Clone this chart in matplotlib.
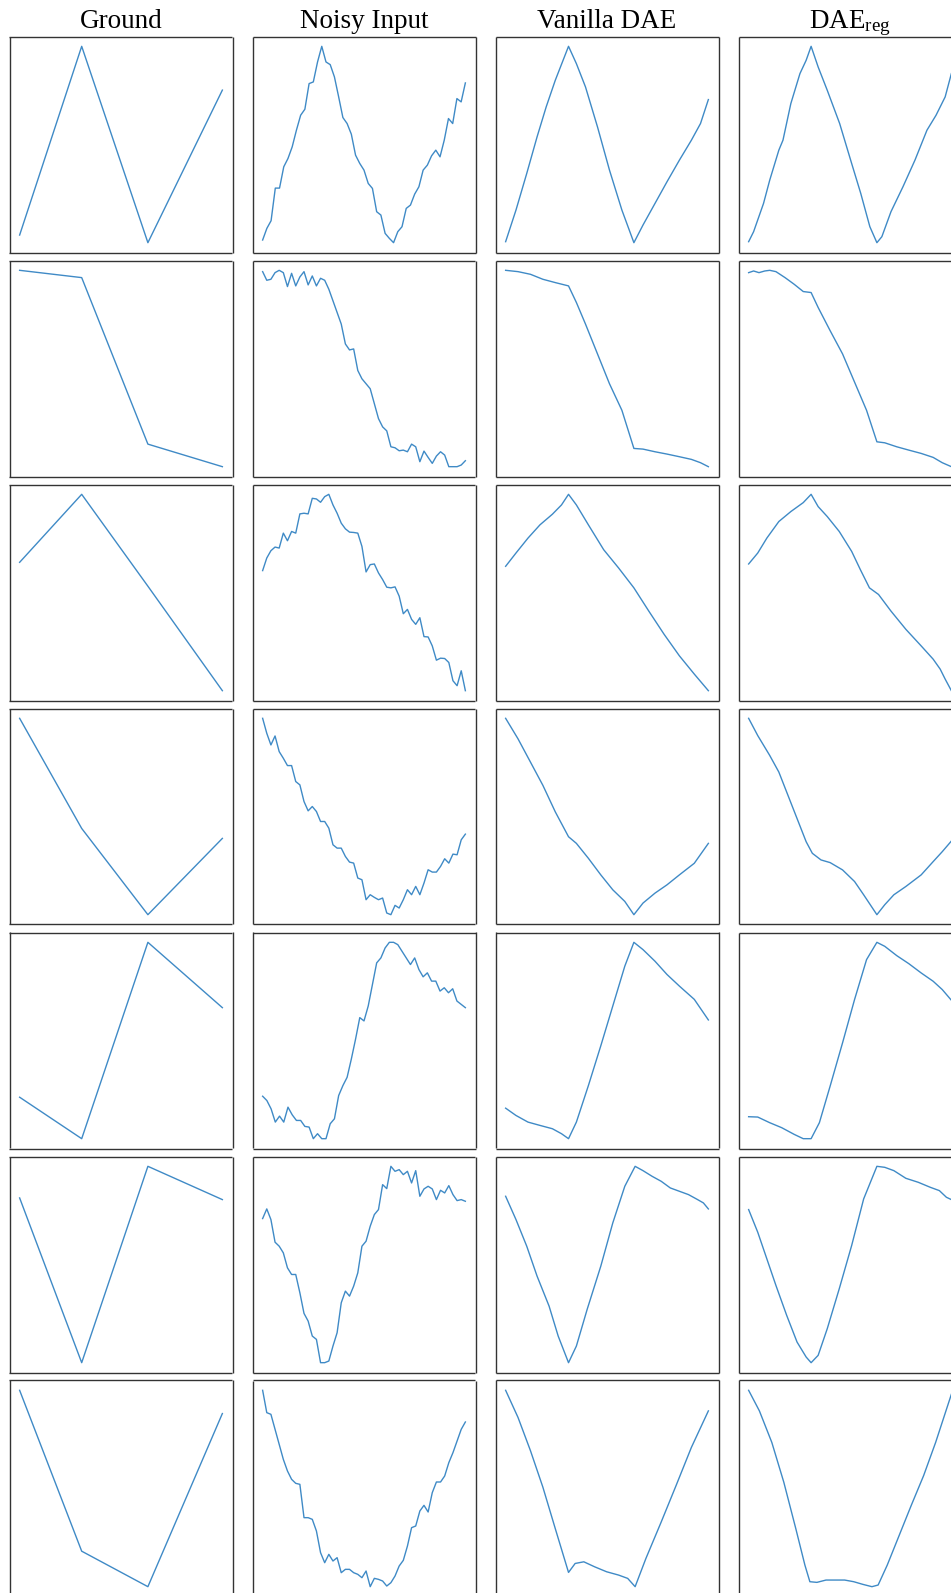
import numpy as np
import matplotlib
matplotlib.use("Agg")
import matplotlib.pyplot as plt

plt.rcParams['font.family'] = ['Liberation Serif', 'DejaVu Serif']
plt.rcParams['mathtext.fontset'] = 'custom'
plt.rcParams['mathtext.rm'] = 'Liberation Serif'
plt.rcParams['mathtext.it'] = 'Liberation Serif:italic'

titles = ["Ground", "Noisy Input", "Vanilla DAE", r"DAE$_{\mathrm{reg}}$"]

# ---------------- Row 1 ----------------
r1_ground_x = [0, 15, 31, 49]
r1_ground_y = [23, 592, 0, 460]
r1_noisy = [10, 45, 68, 166, 166, 230, 255, 290, 340, 385, 403, 480, 485, 545, 592, 545, 537, 500,
            440, 378, 360, 328, 265, 240, 220, 180, 165, 95, 85, 30, 15, 2, 35, 50, 105, 115, 148,
            170, 220, 235, 263, 280, 260, 310, 375, 360, 435, 425, 482]
r1_dae_x = [0, 2.5, 5.1, 7.6, 9.8, 12, 15.2, 17.1, 19.3, 22.2, 25.1, 28.1, 31, 33.2, 36.1, 39, 42, 44.9, 47.1, 49]
r1_dae_y = [5, 100, 210, 320, 410, 490, 592, 540, 470, 350, 220, 100, 2, 55, 120, 185, 250, 310, 360, 432]
r1_reg_x = [0, 1.2, 3.6, 5.1, 7.3, 8.3, 10.2, 12.4, 13.9, 15.1, 16.8, 19, 22, 24.9, 27.1, 29.3, 31, 32.2,
            34.4, 37.3, 40.2, 43.1, 45.3, 47.5, 49]
r1_reg_y = [5, 35, 120, 190, 280, 310, 420, 510, 550, 592, 530, 460, 360, 240, 150, 50, 2, 20,
            95, 170, 250, 340, 385, 440, 510]

# ---------------- Row 2 ----------------
r2_ground_x = [0, 15, 31, 49]
r2_ground_y = [592, 570, 68, 0]
r2_noisy = [588, 562, 565, 585, 592, 585, 543, 583, 545, 572, 588, 548, 575, 545, 568, 562, 535, 500,
            465, 430, 370, 352, 355, 290, 265, 250, 235, 190, 145, 120, 108, 60, 57, 48, 50, 45, 68,
            60, 15, 47, 28, 10, 32, 45, 35, 0, 0, 0, 5, 18]
r2_dae_x = [0, 3, 6, 9, 12, 15.2, 17.1, 19.3, 22.2, 25.1, 28.1, 31, 33.2, 36.1, 39, 42, 44.9, 47.1, 49]
r2_dae_y = [592, 588, 580, 565, 555, 545, 495, 430, 340, 250, 170, 55, 53, 45, 38, 30, 22, 12, 0]
r2_reg_x = [0, 1.2, 2.5, 3.9, 5.1, 6.6, 8.8, 11, 13.2, 15.1, 16.8, 19.7, 22.7, 25.6, 28.5, 31, 32.9,
            35.8, 38.7, 41.7, 44.6, 46.8, 49]
r2_reg_y = [585, 590, 585, 590, 592, 588, 570, 550, 528, 525, 480, 410, 340, 255, 170, 75, 72,
            60, 50, 40, 28, 12, 0]

# ---------------- Row 3 ----------------
r3_ground_x = [0, 15, 31, 49]
r3_ground_y = [387, 592, 315, 0]
r3_noisy = [362, 400, 422, 433, 430, 475, 452, 480, 475, 533, 535, 533, 580, 578, 568, 585, 592, 560,
            535, 505, 488, 478, 477, 475, 435, 358, 380, 382, 355, 335, 312, 310, 313, 285, 232, 245,
            215, 200, 220, 163, 162, 135, 92, 98, 97, 85, 30, 15, 60, 0]
r3_dae_x = [0, 2.5, 5.4, 8.3, 11.3, 13.5, 15.2, 17.1, 20, 23.7, 27.3, 31, 34.6, 38.3, 42, 45.6, 49]
r3_dae_y = [375, 415, 460, 500, 532, 560, 592, 560, 500, 425, 370, 310, 240, 170, 105, 50, 0]
r3_reg_x = [0, 2.2, 4.4, 7.3, 10.2, 13.2, 15.1, 16.8, 19, 21.9, 24.9, 27, 29.2, 31.4, 34.4, 38, 41.7,
            44.6, 46.3, 47.5, 49]
r3_reg_y = [382, 415, 460, 510, 540, 567, 592, 555, 525, 480, 420, 365, 310, 290, 240, 185, 135,
            95, 65, 35, 0]

# ---------------- Row 4 ----------------
r4_ground_x = [0, 15, 31, 49]
r4_ground_y = [592, 260, 0, 230]
r4_noisy = [590, 545, 510, 537, 490, 470, 448, 448, 400, 390, 340, 312, 325, 310, 280, 280, 260, 210,
            200, 200, 175, 158, 155, 110, 105, 45, 60, 52, 45, 50, 5, 0, 28, 20, 45, 75, 60, 85, 60,
            95, 135, 128, 128, 145, 168, 155, 182, 180, 225, 242]
r4_dae_x = [0, 3, 6, 9, 12, 15.2, 17.1, 20, 23, 25.9, 28.8, 31, 33.2, 36.1, 39, 42, 45.6, 49]
r4_dae_y = [592, 530, 460, 390, 310, 235, 215, 170, 120, 75, 40, 0, 35, 65, 90, 120, 155, 215]
r4_reg_x = [0, 2.2, 5.1, 7.3, 9.5, 11.7, 13.9, 15.4, 17.5, 19.7, 22.7, 25.6, 27.8, 31, 32.9, 35.1, 38,
            41.7, 44.6, 46.8, 49]
r4_reg_y = [592, 540, 480, 430, 360, 290, 220, 185, 165, 157, 135, 100, 60, 0, 30, 60, 85,
            120, 160, 190, 222]

# ---------------- Row 5 ----------------
r5_ground_x = [0, 15, 31, 49]
r5_ground_y = [125, 0, 592, 395]
r5_noisy = [128, 115, 90, 50, 68, 50, 95, 72, 55, 55, 37, 35, 0, 15, 0, 0, 45, 60, 130, 160, 185, 240,
            300, 365, 355, 400, 465, 530, 545, 575, 592, 592, 585, 565, 545, 525, 545, 510, 488, 500,
            475, 475, 445, 455, 440, 452, 415, 405, 395]
r5_dae_x = [0, 2.5, 5.4, 8.3, 11.3, 13.5, 15.2, 17.1, 20, 23, 25.9, 28.8, 31, 33.2, 36.1, 39, 42, 45.6, 49]
r5_dae_y = [92, 70, 50, 40, 30, 15, 0, 50, 160, 280, 400, 520, 592, 570, 535, 495, 460, 420, 358]
r5_reg_x = [0, 2.2, 5.1, 8, 11, 13.2, 15.1, 17.1, 19.7, 22.7, 25.6, 28.5, 31, 32.9, 35.8, 38.7, 41.7,
            44.6, 46.8, 49]
r5_reg_y = [68, 67, 50, 35, 15, 2, 2, 50, 160, 290, 420, 540, 592, 580, 552, 528, 500,
            475, 450, 418]

# ---------------- Row 6 ----------------
r6_ground_x = [0, 15, 31, 49]
r6_ground_y = [495, 0, 590, 490]
r6_noisy = [433, 462, 430, 362, 350, 330, 285, 265, 265, 210, 148, 125, 80, 70, 0, 0, 5, 50, 90, 180,
            215, 200, 230, 270, 350, 365, 410, 445, 460, 535, 523, 590, 575, 580, 565, 575, 540, 577,
            500, 522, 530, 522, 490, 518, 510, 532, 505, 487, 490, 485]
r6_dae_x = [0, 2.5, 5.1, 7.6, 10.5, 12.7, 15.2, 17.1, 19.7, 23, 25.9, 28.8, 31.3, 33.2, 35.4, 37.6,
            39.8, 42, 44.2, 46.4, 47.8, 49]
r6_dae_y = [500, 430, 350, 260, 170, 80, 0, 50, 160, 290, 420, 530, 590, 577, 560, 545,
            525, 515, 505, 490, 480, 462]
r6_reg_x = [0, 2.2, 4.4, 6.6, 9.2, 11.7, 13.9, 15.1, 16.8, 19, 21.9, 24.9, 27.8, 31, 32.9, 35.1, 38,
            41, 43.9, 46.1, 47.8, 49]
r6_reg_y = [460, 392, 312, 232, 142, 62, 17, 0, 22, 102, 222, 352, 492, 590, 587, 577, 554,
            542, 527, 517, 497, 490]

# ---------------- Row 7 ----------------
r7_ground_x = [0, 15, 31, 49]
r7_ground_y = [592, 107, 0, 522]
r7_noisy = [592, 525, 520, 475, 430, 385, 350, 325, 313, 310, 210, 210, 205, 170, 105, 75, 100, 80, 90,
            45, 55, 55, 45, 40, 30, 50, 3, 28, 25, 20, 5, 15, 35, 65, 82, 125, 180, 185, 230, 247,
            227, 285, 317, 317, 335, 375, 405, 440, 475, 497]
r7_dae_x = [0, 3, 6, 9, 12, 15.2, 16.8, 18.9, 21.5, 24.4, 27.3, 29.5, 31.3, 33.9, 37.6, 41.2, 44.9, 49]
r7_dae_y = [592, 510, 410, 300, 175, 43, 70, 75, 60, 45, 35, 25, 0, 85, 195, 305, 420, 530]
r7_reg_x = [0, 2.6, 5.6, 8.5, 11.4, 13.6, 14.8, 16.5, 18.7, 21, 23.2, 25.4, 27.6, 29.8, 31.3, 33.5,
            36.4, 39.3, 42.3, 45.2, 49]
r7_reg_y = [592, 530, 435, 315, 175, 65, 15, 13, 20, 20, 20, 15, 7, 0, 5, 65,
            155, 245, 335, 435, 580]

rows = [
    ((r1_ground_x, r1_ground_y), r1_noisy, (r1_dae_x, r1_dae_y), (r1_reg_x, r1_reg_y)),
    ((r2_ground_x, r2_ground_y), r2_noisy, (r2_dae_x, r2_dae_y), (r2_reg_x, r2_reg_y)),
    ((r3_ground_x, r3_ground_y), r3_noisy, (r3_dae_x, r3_dae_y), (r3_reg_x, r3_reg_y)),
    ((r4_ground_x, r4_ground_y), r4_noisy, (r4_dae_x, r4_dae_y), (r4_reg_x, r4_reg_y)),
    ((r5_ground_x, r5_ground_y), r5_noisy, (r5_dae_x, r5_dae_y), (r5_reg_x, r5_reg_y)),
    ((r6_ground_x, r6_ground_y), r6_noisy, (r6_dae_x, r6_dae_y), (r6_reg_x, r6_reg_y)),
    ((r7_ground_x, r7_ground_y), r7_noisy, (r7_dae_x, r7_dae_y), (r7_reg_x, r7_reg_y)),
]

W, H = 951, 1593
fig = plt.figure(figsize=(W / 100, H / 100), dpi=100)

col_left = [9.5, 252.5, 495.5, 738.5]
ax_w, ax_h = 223, 216
row_top0, row_step = 36.5, 224.0
line_color = '#3f8ac6'
spine_color = '#333333'

for r, row in enumerate(rows):
    top = row_top0 + r * row_step
    for c in range(4):
        ax = fig.add_axes([col_left[c] / W, 1 - (top + ax_h) / H, ax_w / W, ax_h / H])
        item = row[c]
        if c == 1:
            y = np.asarray(item, dtype=float)
            ax.plot(np.arange(len(y)), y, color=line_color, lw=1.0)
        else:
            ax.plot(item[0], item[1], color=line_color, lw=1.0)
        ax.set_xticks([])
        ax.set_yticks([])
        for s in ax.spines.values():
            s.set_color(spine_color)
            s.set_linewidth(1.0)
            s.set_capstyle('butt')

for c, t in enumerate(titles):
    fig.text((col_left[c] + ax_w / 2) / W, 1 - 28.5 / H, t, ha='center', va='baseline',
             fontsize=19.5, color='black')

fig.savefig('out.png', dpi=100)
